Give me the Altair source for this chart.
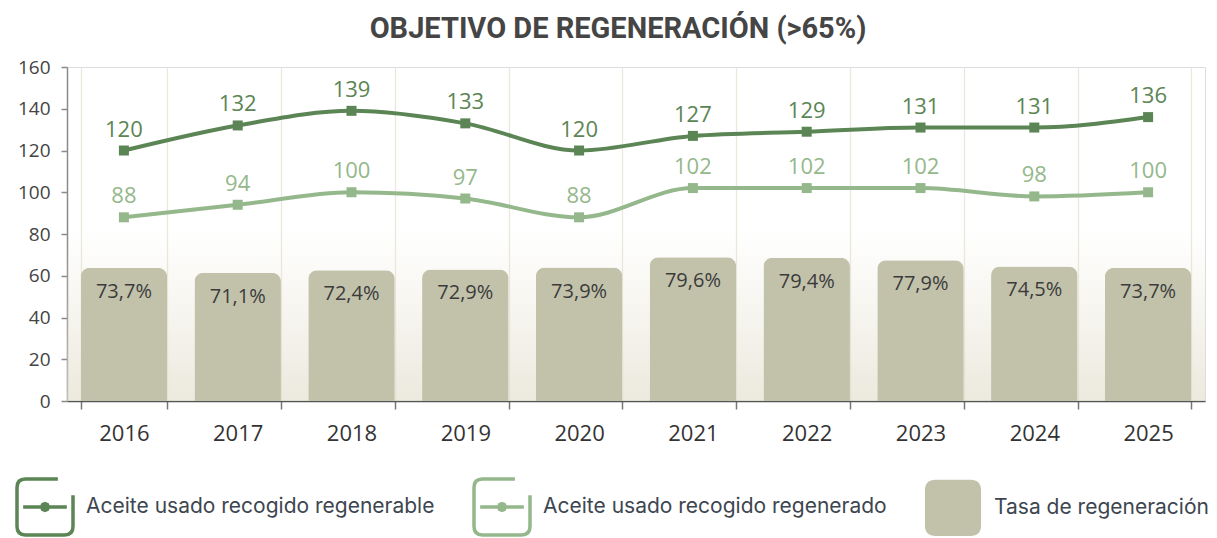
import altair as alt
import pandas as pd

# ---------------- data ----------------
years = ["2016", "2017", "2018", "2019", "2020", "2021", "2022", "2023", "2024", "2025"]
regenerable = [120, 132, 139, 133, 120, 127, 129, 131, 131, 136]
regenerado = [88, 94, 100, 97, 88, 102, 102, 102, 98, 100]
tasa = [73.7, 71.1, 72.4, 72.9, 73.9, 79.6, 79.4, 77.9, 74.5, 73.7]
series = [
    "Aceite usado recogido regenerable",
    "Aceite usado recogido regenerado",
    "Tasa de regeneración",
]
y_ticks = [0, 20, 40, 60, 80, 100, 120, 140, 160]

DARK = "#5b8554"
LIGHT = "#94b88b"
BEIGE = "#c2c2ab"

bars_df = pd.DataFrame({"year": years, "tasa": tasa})
bars_df["label"] = [f"{v:.1f}".replace(".", ",") + "%" for v in tasa]

lines_df = pd.concat(
    [
        pd.DataFrame({"year": years, "value": regenerable, "serie": series[0]}),
        pd.DataFrame({"year": years, "value": regenerado, "serie": series[1]}),
    ],
    ignore_index=True,
)
legend_df = pd.DataFrame({"year": [years[0]] * 3, "value": [-50] * 3, "serie": series})

# ---------------- encodings ----------------
x_enc = alt.X(
    "year:N",
    sort=years,
    scale=alt.Scale(paddingInner=0.24, paddingOuter=0.12),
    axis=alt.Axis(
        title=None, labelAngle=0, grid=True, gridColor="#ebe7dc", gridWidth=1.3,
        tickBand="extent", domainColor="#555555", domainWidth=1.5,
        tickColor="#777777", tickSize=8, tickWidth=1.5,
        labelFont="Open Sans", labelFontSize=22, labelColor="#333333", labelPadding=14,
    ),
)

y_main = alt.Y(
    "value:Q",
    scale=alt.Scale(domain=[0, 160]),
    axis=alt.Axis(
        title=None, values=y_ticks, grid=False, orient="left",
        domainColor="#8a8a8a", domainWidth=1.5, tickColor="#8a8a8a",
        tickSize=6, tickWidth=1.5, labelFont="Open Sans", labelFontSize=19,
        labelColor="#444444", labelPadding=11,
    ),
)

color_enc = alt.Color(
    "serie:N", scale=alt.Scale(domain=series[:2], range=[DARK, LIGHT]), legend=None
)

# ---------------- background + bars ----------------
gradient = alt.LinearGradient(
    gradient="linear",
    stops=[
        alt.GradientStop(offset=0, color="rgba(226,222,204,0)"),
        alt.GradientStop(offset=1, color="rgba(226,222,204,0.65)"),
    ],
    x1=0, x2=0, y1=0, y2=1,
)

y_bar_scale = alt.Scale(domain=[0, 185])

bg = alt.Chart(pd.DataFrame({"top": [95], "bottom": [0]})).mark_rect(fill=gradient).encode(
    x=alt.value(0),
    x2=alt.value(1138),
    y=alt.Y("top:Q", scale=y_bar_scale, axis=None),
    y2="bottom:Q",
)

y_bar = alt.Y("tasa:Q", scale=y_bar_scale, axis=None)

bars = alt.Chart(bars_df).mark_bar(
    color=BEIGE, cornerRadiusTopLeft=9, cornerRadiusTopRight=9
).encode(x=x_enc, y=y_bar)

bar_labels = alt.Chart(bars_df).mark_text(
    baseline="alphabetic", dy=30, font="Open Sans", fontSize=20, color="#3b3b3b"
).encode(x=x_enc, y=y_bar, text="label:N")

bars_group = alt.layer(bg, bars, bar_labels)

# ---------------- lines ----------------
base = alt.Chart(lines_df)
lines = base.mark_line(interpolate="monotone", strokeWidth=4).encode(
    x=x_enc, y=y_main, color=color_enc
)
pts = base.mark_square(size=100, opacity=1).encode(x=x_enc, y=y_main, color=color_enc)
lab1 = base.transform_filter(alt.datum.serie == series[0]).mark_text(
    baseline="alphabetic", dy=-14, font="Open Sans", fontSize=22, fontWeight=500
).encode(x=x_enc, y=y_main, text="value:Q", color=color_enc)
lab2 = base.transform_filter(alt.datum.serie == series[1]).mark_text(
    baseline="alphabetic", dy=-14, font="Open Sans", fontSize=22, fontWeight=400
).encode(x=x_enc, y=y_main, text="value:Q", color=color_enc)

# ---------------- legend (via invisible clipped points) ----------------
ICON_LINE = (
    "M0.46,-1 L-0.7,-1 Q-1,-1 -1,-0.7 L-1,0.7 Q-1,1 -0.7,1 L0.7,1 Q1,1 1,0.7 L1,-0.42 "
    "M-0.78,0 L0.78,0 "
    "M-0.12,0 L-0.085,-0.085 L0,-0.12 L0.085,-0.085 L0.12,0 L0.085,0.085 L0,0.12 L-0.085,0.085 Z "
    "M-0.05,0 L0,-0.05 L0.05,0 L0,0.05 Z"
)
ICON_BOX = (
    "M-0.62,-0.94 L0.62,-0.94 Q0.94,-0.94 0.94,-0.62 L0.94,0.62 Q0.94,0.94 0.62,0.94 "
    "L-0.62,0.94 Q-0.94,0.94 -0.94,0.62 L-0.94,-0.62 Q-0.94,-0.94 -0.62,-0.94 Z"
)

LEG = alt.Legend(
    title=None, orient="none", legendX=-52, legendY=410, direction="horizontal",
    columns=3, symbolSize=3136, symbolStrokeWidth=3.5, labelFont="Inter",
    labelFontSize=21, labelColor="#3d4650", labelOffset=11, columnPadding=32,
    padding=0, labelLimit=0,
)

legend_layer = alt.Chart(legend_df).mark_point(
    filled=True, opacity=1, strokeWidth=3.5, clip=True
).encode(
    x=x_enc,
    y=y_main,
    shape=alt.Shape("serie:N", scale=alt.Scale(domain=series, range=[ICON_LINE, ICON_LINE, ICON_BOX]), legend=LEG),
    fill=alt.Fill("serie:N", scale=alt.Scale(domain=series, range=["transparent", "transparent", BEIGE]), legend=LEG),
    stroke=alt.Stroke("serie:N", scale=alt.Scale(domain=series, range=[DARK, LIGHT, BEIGE]), legend=LEG),
)

lines_group = alt.layer(lines, pts, lab1, lab2, legend_layer)

chart = (
    alt.layer(bars_group, lines_group)
    .resolve_scale(y="independent")
    .properties(
        width=1138,
        height=334,
        padding={"left": 7, "top": 7, "right": 0, "bottom": 0},
        title=alt.TitleParams(
            "OBJETIVO DE REGENERACIÓN (>65%)", font="Roboto", fontSize=29,
            fontWeight="bold", color="#454545", anchor="middle", offset=14, dx=-18,
        ),
    )
    .configure_view(stroke=None)
    .configure(background="white")
)

chart.save("out.html", embed_options={"renderer": "svg", "actions": False})
